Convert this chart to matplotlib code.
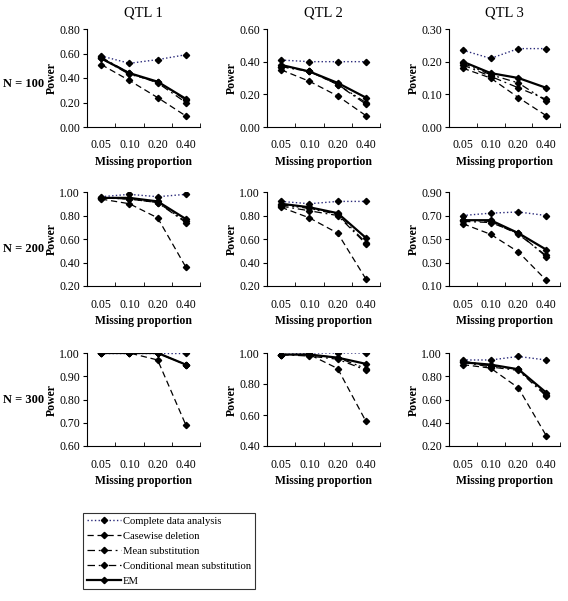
import matplotlib.pyplot as plt
import numpy as np

plt.rcParams['font.family'] = ['Liberation Serif', 'DejaVu Serif']

props = ["0.05", "0.10", "0.20", "0.40"]
qtls = ["QTL 1", "QTL 2", "QTL 3"]
sizes = ["N = 100", "N = 200", "N = 300"]
methods = ["Complete data analysis", "Casewise deletion", "Mean substitution",
           "Conditional mean substitution", "EM"]

# power[row][col] -> one list per method
power = [
    [  # N = 100
        [[0.58, 0.52, 0.55, 0.59], [0.51, 0.38, 0.24, 0.09], [0.57, 0.44, 0.36, 0.20],
         [0.56, 0.43, 0.37, 0.22], [0.56, 0.44, 0.37, 0.23]],
        [[0.41, 0.40, 0.40, 0.40], [0.35, 0.28, 0.19, 0.07], [0.37, 0.34, 0.26, 0.14],
         [0.37, 0.34, 0.26, 0.15], [0.38, 0.34, 0.27, 0.18]],
        [[0.235, 0.21, 0.24, 0.24], [0.18, 0.15, 0.09, 0.035], [0.19, 0.155, 0.12, 0.085],
         [0.195, 0.16, 0.135, 0.08], [0.20, 0.165, 0.15, 0.12]],
    ],
    [  # N = 200
        [[0.96, 0.98, 0.96, 0.98], [0.94, 0.90, 0.78, 0.36], [0.95, 0.94, 0.91, 0.74],
         [0.95, 0.94, 0.91, 0.75], [0.95, 0.95, 0.92, 0.77]],
        [[0.92, 0.90, 0.92, 0.92], [0.87, 0.78, 0.65, 0.26], [0.88, 0.84, 0.80, 0.56],
         [0.89, 0.86, 0.81, 0.57], [0.90, 0.87, 0.82, 0.61]],
        [[0.70, 0.72, 0.73, 0.70], [0.63, 0.54, 0.39, 0.15], [0.65, 0.64, 0.55, 0.35],
         [0.66, 0.65, 0.54, 0.36], [0.66, 0.66, 0.55, 0.41]],
    ],
    [  # N = 300
        [[1.00, 1.00, 1.00, 1.00], [1.00, 1.00, 0.97, 0.69], [1.00, 1.00, 1.00, 0.95],
         [1.00, 1.00, 1.00, 0.95], [1.00, 1.00, 1.00, 0.95]],
        [[0.99, 1.00, 1.00, 1.00], [0.99, 0.99, 0.90, 0.56], [0.99, 0.98, 0.96, 0.89],
         [0.99, 0.99, 0.97, 0.90], [0.99, 0.99, 0.97, 0.93]],
        [[0.94, 0.94, 0.97, 0.94], [0.90, 0.87, 0.70, 0.29], [0.92, 0.88, 0.85, 0.63],
         [0.93, 0.89, 0.86, 0.64], [0.92, 0.90, 0.86, 0.66]],
    ],
]

# y-axis ranges per panel (min, max, step)
yranges = [
    [(0.0, 0.8, 0.2), (0.0, 0.6, 0.2), (0.0, 0.3, 0.1)],
    [(0.2, 1.0, 0.2), (0.2, 1.0, 0.2), (0.1, 0.9, 0.2)],
    [(0.6, 1.0, 0.1), (0.4, 1.0, 0.2), (0.2, 1.0, 0.2)],
]

styles = [
    dict(ls=':', color='#2a2a7a', lw=1.0),
    dict(ls=(0, (5, 3)), color='black', lw=0.9),
    dict(ls=(0, (6, 3, 1.5, 3)), color='black', lw=0.9),
    dict(ls=(0, (6, 3, 1.5, 2, 1.5, 3)), color='black', lw=0.9),
    dict(ls='-', color='black', lw=1.6),
]

W, H = 568, 601
fig = plt.figure(figsize=(W / 100, H / 100), dpi=100)

col_x = [(87, 200), (267, 380), (449, 560)]
row_y = [(29, 127), (192, 286), (353, 446)]
row_label_y = [84, 249, 400]

x = np.arange(len(props)) + 0.5
for r in range(3):
    for c in range(3):
        x0, x1 = col_x[c]
        yt, yb = row_y[r]
        ax = fig.add_axes([x0 / W, 1 - yb / H, (x1 - x0) / W, (yb - yt) / H])
        for m in range(5):
            ax.plot(x, power[r][c][m], marker='D', ms=3.2, mfc='black', mec='black',
                    **styles[m])
        lo, hi, st = yranges[r][c]
        ax.set_ylim(lo, hi)
        ax.set_xlim(0, 4)
        ticks = np.round(np.arange(lo, hi + st / 2, st), 2)
        ax.set_yticks(ticks)
        ax.set_yticklabels([f"{t:.2f}" for t in ticks], fontsize=8.5)
        ax.set_xticks(x)
        ax.set_xticklabels(props, fontsize=8.5)
        ax.tick_params(axis='x', length=0, pad=9)
        ax.set_xticks([1, 2, 3, 4], minor=True)
        ax.tick_params(axis='x', which='minor', direction='in', length=3)
        ax.tick_params(axis='y', direction='out', length=3, pad=2)
        for s in ['top', 'right']:
            ax.spines[s].set_visible(False)
        ax.set_ylabel("Power", fontsize=8.5, fontweight='bold', labelpad=1)
        ax.set_xlabel("Missing proportion", fontsize=8.5, fontweight='bold', labelpad=3)
        if r == 0:
            ax.set_title(qtls[c], fontsize=10.5, pad=9)
        if c == 0:
            fig.text(3 / W, 1 - row_label_y[r] / H, sizes[r], fontsize=9,
                     fontweight='bold', va='center', ha='left')

handles = [plt.Line2D([], [], marker='D', ms=3.2, mfc='black', mec='black', **styles[m])
           for m in range(5)]
leg = fig.legend(handles, methods, loc='upper left', bbox_to_anchor=(83 / W, 1 - 513 / H),
                 fontsize=7.7, frameon=True, fancybox=False, handlelength=3.2,
                 handletextpad=0.2, labelspacing=0.5, borderpad=0.35, borderaxespad=0)
leg.get_frame().set_edgecolor('black')
leg.get_frame().set_linewidth(0.8)

fig.savefig("out.png", dpi=100)
